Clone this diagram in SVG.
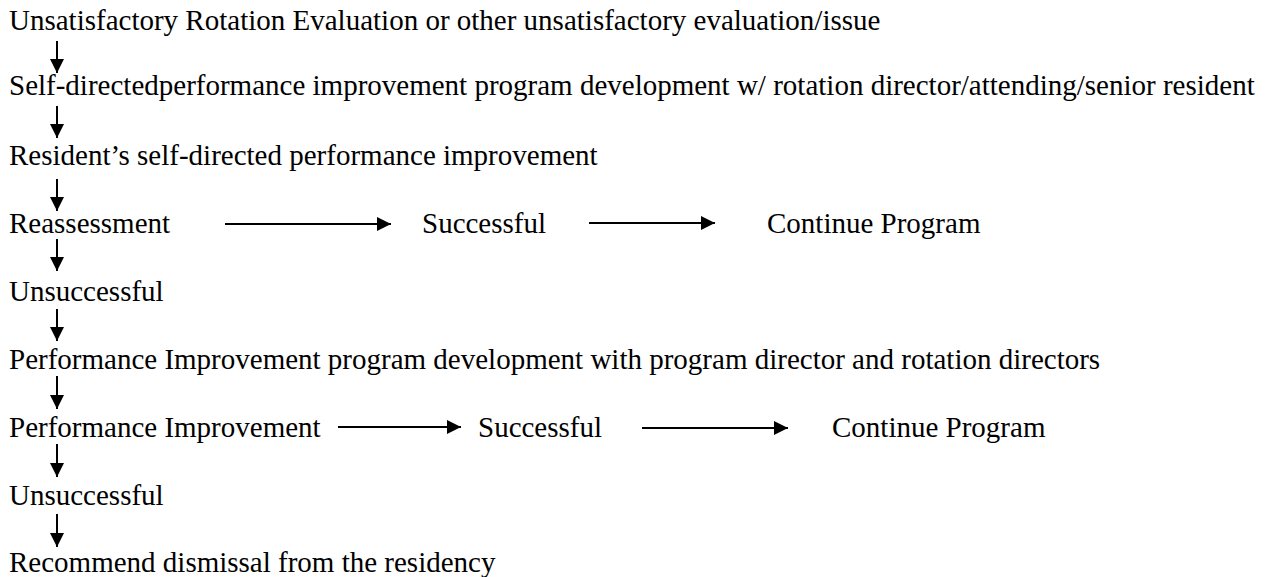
<svg xmlns="http://www.w3.org/2000/svg" width="1274" height="577" viewBox="0 0 1274 577">
<style>
text{font-family:"Liberation Serif","Times New Roman",serif;font-size:29px;fill:#000}
.c line{stroke:#000;stroke-width:2}
</style>
<defs>
<marker id="ah" viewBox="0 0 14 14" refX="14" refY="7" markerWidth="14" markerHeight="14" markerUnits="userSpaceOnUse" orient="auto"><path d="M0,0 L14,7 L0,14 Z" fill="#000"/></marker>
</defs>
<rect width="1274" height="577" fill="#fff"/>
<g id="n1"><text x="9" y="30">Unsatisfactory Rotation Evaluation or other unsatisfactory evaluation/issue</text></g>
<g id="n2"><text x="9" y="95">Self-directedperformance improvement program development w/ rotation director/attending/senior resident</text></g>
<g id="n3"><text x="9" y="165">Resident’s self-directed performance improvement</text></g>
<g id="n4"><text x="9" y="233">Reassessment</text></g>
<g id="n5"><text x="422" y="233">Successful</text></g>
<g id="n6"><text x="767" y="233">Continue Program</text></g>
<g id="n7"><text x="9" y="301">Unsuccessful</text></g>
<g id="n8"><text x="9" y="369">Performance Improvement program development with program director and rotation directors</text></g>
<g id="n9"><text x="9" y="437">Performance Improvement</text></g>
<g id="n10"><text x="478" y="437">Successful</text></g>
<g id="n11"><text x="832" y="437">Continue Program</text></g>
<g id="n12"><text x="9" y="505">Unsuccessful</text></g>
<g id="n13"><text x="9" y="572">Recommend dismissal from the residency</text></g>
<g id="connectors" class="c">
<line x1="57" y1="41" x2="57" y2="73" marker-end="url(#ah)"/>
<line x1="57" y1="106" x2="57" y2="138" marker-end="url(#ah)"/>
<line x1="57" y1="179" x2="57" y2="211" marker-end="url(#ah)"/>
<line x1="57" y1="239" x2="57" y2="271" marker-end="url(#ah)"/>
<line x1="57" y1="309" x2="57" y2="341" marker-end="url(#ah)"/>
<line x1="57" y1="376" x2="57" y2="409" marker-end="url(#ah)"/>
<line x1="57" y1="444" x2="57" y2="477" marker-end="url(#ah)"/>
<line x1="57" y1="514" x2="57" y2="547" marker-end="url(#ah)"/>
<line x1="225" y1="224" x2="391" y2="224" marker-end="url(#ah)"/>
<line x1="589" y1="223" x2="715" y2="223" marker-end="url(#ah)"/>
<line x1="338" y1="427" x2="461" y2="427" marker-end="url(#ah)"/>
<line x1="642" y1="428" x2="788" y2="428" marker-end="url(#ah)"/>
</g>
</svg>
